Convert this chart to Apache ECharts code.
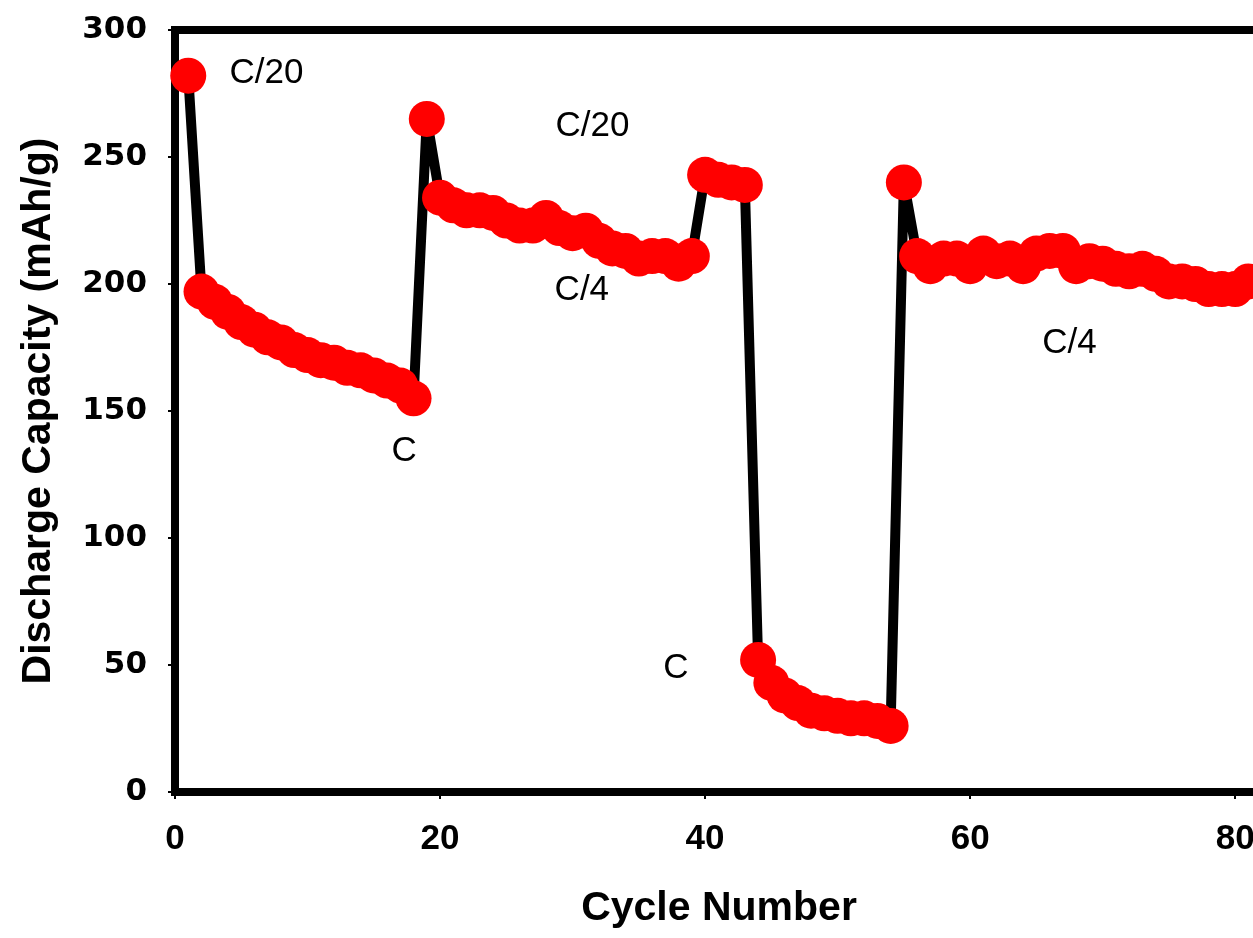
<!DOCTYPE html>
<html>
<head>
    <meta charset="utf-8">
    <title>Discharge Capacity</title>
    <script src="https://cdn.jsdelivr.net/npm/echarts@6/dist/echarts.min.js"></script>
</head>
<body style="margin:0;background:#fff;">
<div id="main" style="width:1253px;height:938px;"></div>
<script type="text/javascript">
    // discharge capacity per cycle (mAh/g), cycle 1 .. 81
    var capacity = [
        282, 197, 193, 189, 185, 182, 179, 177, 174, 172,
        170, 169, 167, 166, 164, 162, 160, 155, 265, 234,
        231, 229, 229, 228, 225, 223, 223, 226, 222, 220,
        221, 217, 214, 213, 210, 211, 211, 208, 211, 243,
        241, 240, 239, 52, 43, 38, 35, 32, 31, 30,
        29, 29, 28, 26, 240, 211, 207, 210, 210, 207,
        212, 209, 210, 207, 212, 213, 213, 207, 209, 208,
        206, 205, 206, 204, 201, 201, 200, 198, 198, 198,
        201
    ];
    var yTicks = [0, 50, 100, 150, 200, 250, 300];
    var xTicks = [0, 20, 40, 60, 80];

    // rate labels written on the plot
    var rateNames = ['C/20', 'C/20', 'C', 'C/4', 'C', 'C/4'];
    var rateX = [6.9, 31.5, 17.3, 30.7, 37.8, 67.5];
    var rateY = [283, 262, 134, 197.5, 48.5, 176.5];

    var points = capacity.map(function (v, i) { return [i + 1, v]; });
    var labels = rateNames.map(function (n, i) {
        return { name: n, value: [rateX[i], rateY[i]] };
    });

    var myChart = echarts.init(document.getElementById('main'));
    var option = {
        backgroundColor: '#fff',
        animation: false,
        grid: {
            left: 175, top: 30, right: -10, bottom: 146,
            outerBoundsMode: 'none',
            containLabel: false,
            show: true, borderColor: '#000', borderWidth: 8
        },
        xAxis: {
            type: 'value',
            min: 0,
            max: 82.1,
            interval: 20,
            name: 'Cycle Number',
            nameLocation: 'middle',
            nameGap: 96,
            nameTextStyle: { fontFamily: 'Liberation Sans', fontWeight: 'bold', fontSize: 41, color: '#000' },
            axisLine: { lineStyle: { color: '#000', width: 8 } },
            axisTick: { length: 7, lineStyle: { color: '#000', width: 2 } },
            axisLabel: {
                margin: 30,
                fontFamily: 'Liberation Sans', fontWeight: 'bold', fontSize: 35, color: '#000',
                formatter: function (v) { return xTicks.indexOf(v) >= 0 ? String(v) : ''; }
            },
            splitLine: { show: false }
        },
        yAxis: {
            type: 'value',
            min: yTicks[0],
            max: yTicks[yTicks.length - 1],
            interval: 50,
            name: 'Discharge Capacity (mAh/g)',
            nameLocation: 'middle',
            nameGap: 116,
            nameTextStyle: { fontFamily: 'Liberation Sans', fontWeight: 'bold', fontSize: 41, color: '#000' },
            axisLine: { lineStyle: { color: '#000', width: 8 } },
            axisTick: { length: 7, lineStyle: { color: '#000', width: 2 } },
            axisLabel: {
                margin: 28,
                fontFamily: 'DejaVu Sans', fontWeight: 'bold', fontSize: 31, color: '#000'
            },
            splitLine: { show: false }
        },
        series: [{
            type: 'line',
            data: points,
            symbol: 'circle',
            symbolSize: 36,
            lineStyle: { color: '#000', width: 10 },
            itemStyle: { color: '#ff0000' },
            emphasis: { disabled: true },
            z: 3
        }, {
            type: 'scatter',
            data: labels,
            symbolSize: 0,
            itemStyle: { color: '#000', opacity: 0 },
            label: {
                show: true,
                position: 'inside',
                formatter: '{b}',
                opacity: 1,
                textBorderWidth: 0,
                fontFamily: 'Liberation Sans', fontSize: 35, color: '#000'
            },
            emphasis: { disabled: true },
            z: 4
        }]
    };
    myChart.setOption(option);
</script>
</body>
</html>
